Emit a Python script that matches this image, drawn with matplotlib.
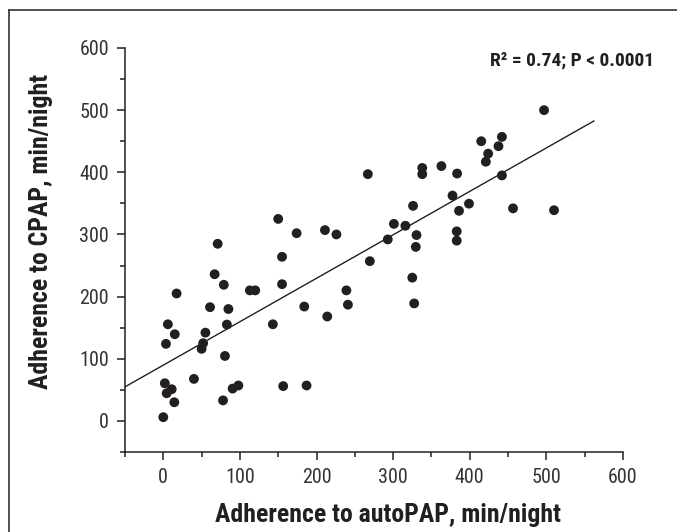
import numpy as np
import matplotlib
matplotlib.use("Agg")
import matplotlib.pyplot as plt
from matplotlib.lines import Line2D

plt.rcParams['font.family'] = ['Roboto Condensed', 'Liberation Sans', 'DejaVu Sans']

# adherence data (min/night)
auto_pap = [0, 2, 4.4, 11, 14.4, 40, 78, 90.5, 98, 156.5, 187,
            3.5, 50, 52, 80.5, 55, 15, 6, 83, 143, 17.4, 61, 85, 184,
            113, 120, 67, 79, 155, 155, 71, 150, 174, 211, 226, 214,
            239, 241, 267, 269.6, 293, 301, 316, 326, 325, 327.5, 330.5,
            329.6, 338, 338, 363, 383.5, 377.5, 386, 383, 383, 399, 415,
            442, 437.5, 424, 421, 442, 456.5, 497, 510]
cpap = [6, 60.6, 44.5, 51, 30, 67.6, 33, 52, 57, 56, 57,
        124, 116, 125, 104.5, 142, 139.5, 155.5, 155, 155.5, 205, 183, 180, 184,
        210, 210, 236, 219, 220, 264, 285, 325, 302, 307, 300, 168,
        210, 187, 397, 257, 292, 317, 314, 346, 230.5, 189, 299,
        280, 407, 397, 410, 398, 362.5, 338, 305, 290, 349.5, 450,
        457, 442, 430, 417, 395, 342, 500, 339]

# fitted line as drawn
fit_x = [-50, 562]
fit_intercept = 89.7
fit_slope = 0.699

x_ticks = [0, 100, 200, 300, 400, 500, 600]
y_ticks = [0, 100, 200, 300, 400, 500, 600]

ink = '#231f20'

fig = plt.figure(figsize=(6.77, 5.32), dpi=100)
ax = fig.add_axes([0.1846, 0.1504, 0.7356, 0.7594])

ax.scatter(auto_pap, cpap, s=50, color=ink, edgecolors='none', zorder=3)
fx = np.array(fit_x)
ax.plot(fx, fit_intercept + fit_slope * fx, color=ink, lw=1.0, zorder=2)

ax.set_xlim(-50, 600)
ax.set_ylim(-50, 600)
ax.set_xticks(x_ticks)
ax.set_yticks(y_ticks)
ax.set_xticks(np.arange(-50, 601, 50), minor=True)
ax.set_yticks(np.arange(-50, 601, 50), minor=True)
ax.tick_params(which='major', length=6, width=1.1, color=ink, labelsize=14.5,
               labelcolor='#333333', pad=5.5)
ax.tick_params(which='minor', length=3.5, width=1.1, color=ink)

for side in ['top', 'right']:
    ax.spines[side].set_visible(False)
for side in ['left', 'bottom']:
    ax.spines[side].set_linewidth(1.1)
    ax.spines[side].set_color(ink)

ax.set_xlabel('Adherence to autoPAP, min/night', fontsize=18.5, fontweight='bold',
              color=ink, va='center')
ax.set_ylabel('Adherence to CPAP, min/night', fontsize=18.5, fontweight='bold',
              color=ink, va='center')
ax.xaxis.set_label_coords(0.529, -0.157)
ax.yaxis.set_label_coords(-0.168, 0.545)

fig.text(0.966, 0.887, 'R² = 0.74; P < 0.0001', ha='right', va='center',
         fontsize=14, fontweight='bold', color=ink)

# frame around the panel (left and top edges visible)
fig.add_artist(Line2D([0.013, 0.013], [0.0, 0.981], transform=fig.transFigure,
                      color='#333333', lw=1.2))
fig.add_artist(Line2D([0.013, 1.0], [0.981, 0.981], transform=fig.transFigure,
                      color='#333333', lw=1.2))

fig.savefig('out.png', dpi=100)
